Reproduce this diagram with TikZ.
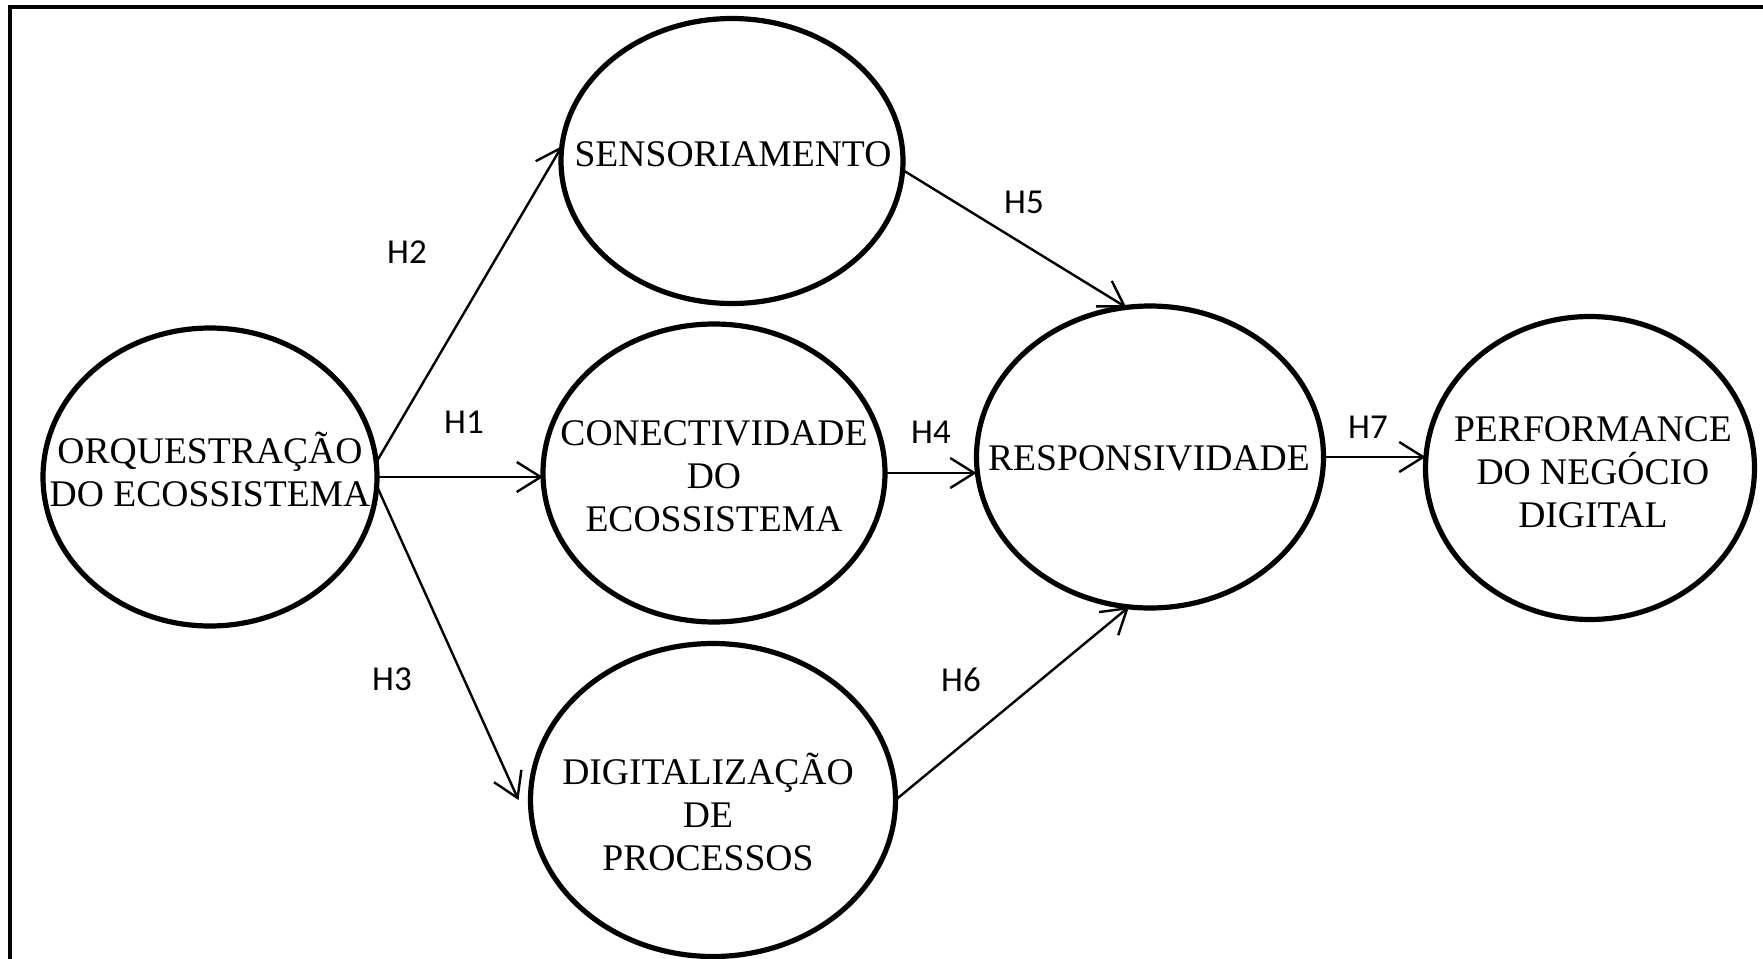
\documentclass[tikz,border=0pt]{standalone}
\usepackage{fontspec}
\setmainfont{Liberation Serif}
\newfontfamily\hfont{Carlito}
\usetikzlibrary{shapes.geometric,arrows.meta}
\tikzset{
  x=0.5pt, y=-0.5pt,
  ell/.style={ellipse, draw, line width=2.6pt, inner sep=0pt, outer sep=0pt},
  txt/.style={align=center, font=\fontsize{18.8pt}{21.5pt}\selectfont, inner sep=0pt},
  hlab/.style={font=\hfont\fontsize{17.5pt}{20pt}\selectfont, inner sep=0pt},
  conn/.style={line width=1.2pt, -{Straight Barb[length=12pt,width=15pt,line width=1.2pt]}},
  frameline/.style={line width=1.6pt}
}
\begin{document}
\begin{tikzpicture}
\useasboundingbox (0,0) rectangle (1763,959);
\coordinate (fbl) at (10,959);
\coordinate (ftl) at (10,7);
\coordinate (ftr) at (1763,7);
\draw[frameline] (fbl) -- (ftl) -- (ftr);

% ellipses
\node[ell, minimum width=167pt, minimum height=149pt] (orq) at (210,477) {};
\node[ell, minimum width=171pt, minimum height=142.5pt] (sens) at (732,161) {};
\node[ell, minimum width=171pt, minimum height=149pt] (cone) at (714,473) {};
\node[ell, minimum width=182.5pt, minimum height=156.5pt] (digi) at (713,800) {};
\node[ell, minimum width=173.5pt, minimum height=151pt] (resp) at (1150,457) {};
\node[ell, minimum width=164.5pt, minimum height=151.5pt] (perf) at (1590,468) {};

% texts
\node[txt] (torq) at (210,469) {ORQUESTRAÇÃO\\DO ECOSSISTEMA};
\node[txt] (tsens) at (733,154) {SENSORIAMENTO};
\node[txt] (tcone) at (714,476) {CONECTIVIDADE\\DO\\ECOSSISTEMA};
\node[txt] (tdigi) at (708,812) {DIGITALIZAÇÃO\\DE\\PROCESSOS};
\node[txt] (tresp) at (1149,458) {RESPONSIVIDADE};
\node[txt] (tperf) at (1593,472) {PERFORMANCE\\DO NEGÓCIO\\DIGITAL};

% connectors
\draw[conn] (orq.5) -- (sens.175);
\draw[conn] (orq.east) -- (orq.east -| cone.west);
\draw[conn] (orq.-3) -- ([xshift=-6pt]digi.west);
\draw[conn] (sens.-3) -- (resp.99);
\draw[conn] (cone.east) -- (cone.east -| resp.west);
\draw[conn] (digi.east) -- (resp.262);
\draw[conn] (resp.east) -- (resp.east -| perf.west);

% labels
\node[hlab] (h2) at (407,252) {H2};
\node[hlab] (h1) at (464,422) {H1};
\node[hlab] (h3) at (392,679) {H3};
\node[hlab] (h5) at (1024,202) {H5};
\node[hlab] (h4) at (931,432) {H4};
\node[hlab] (h6) at (961,680) {H6};
\node[hlab] (h7) at (1368,427) {H7};
\end{tikzpicture}
\end{document}
